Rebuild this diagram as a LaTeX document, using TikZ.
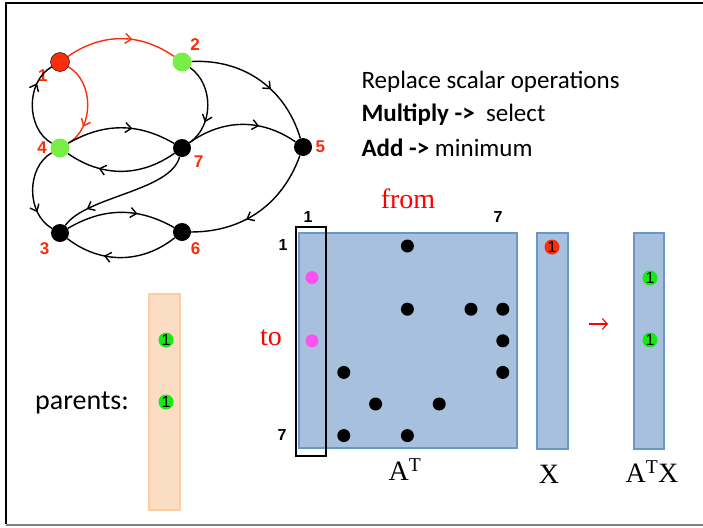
\documentclass[tikz,border=0pt]{standalone}
\usepackage{fontspec}
\setmainfont{Liberation Serif}
\newfontfamily\calibri{Carlito}
\newfontfamily\arial{Liberation Sans}
\usetikzlibrary{arrows.meta,decorations.markings,backgrounds}
\definecolor{nodered}{RGB}{250,45,10}
\definecolor{nodegreen}{RGB}{120,238,70}
\definecolor{dotgreen}{RGB}{20,235,20}
\definecolor{dotpink}{RGB}{255,80,240}
\definecolor{matfill}{RGB}{167,192,222}
\definecolor{matline}{RGB}{105,150,203}
\definecolor{peachfill}{RGB}{251,221,195}
\definecolor{peachline}{RGB}{250,205,165}

\begin{document}
\begin{tikzpicture}[x=1pt,y=1pt,
    vert/.style={circle, fill=#1, minimum size=19pt, inner sep=0pt, label distance=0pt},
    vlabel/.style={font=\arial\bfseries\fontsize{17}{19}\selectfont, text=nodered},
    graphedge/.style={line width=1.4pt},
    midarrow/.style={postaction={decorate}, decoration={markings, mark=at position #1 with {\arrow{Straight Barb[length=6pt,width=10pt]}}}},
    matbox/.style={draw=#1, line width=1.8pt, inner sep=0pt},
    mdot/.style={circle, fill=#1, minimum size=13pt, inner sep=0pt},
    valdot/.style={circle, fill=#1, minimum size=15pt, inner sep=0pt, font=\arial\fontsize{16}{16}\selectfont},
    idx/.style={font=\arial\bfseries\fontsize{16}{18}\selectfont},
    bigtext/.style={font=\fontsize{28}{32}\selectfont},
    ops/.style={anchor=west, font=\calibri\fontsize{25}{29}\selectfont}]
    \useasboundingbox (0,0) rectangle (703,-527);
    % frame
    \draw[line width=2pt] (6,-524) -- (6,-3) -- (703,-3);
    \draw[gray, line width=1.5pt] (6,-525) -- (703,-525);
    % graph
    \node[vert=nodered, draw=black, thin, label={[vlabel]204:1}] (n1) at (60,-62) {};
    \node[vert=nodegreen, label={[vlabel]60:2}] (n2) at (182,-62) {};
    \node[vert=black, minimum size=18pt, label={[vlabel]-140:3}] (n3) at (60,-233) {};
    \node[vert=nodegreen, label={[vlabel]left:4}] (n4) at (60,-148) {};
    \node[vert=black, minimum size=18pt, label={[vlabel]right:5}] (n5) at (303,-147) {};
    \node[vert=black, minimum size=18pt, label={[vlabel]-54:6}] (n6) at (182,-232) {};
    \node[vert=black, minimum size=18pt, label={[vlabel]-25:7}] (n7) at (182,-148) {};
    \draw[graphedge, nodered, midarrow=0.6] (n1) to[bend left=35] (n2);
    \draw[graphedge, nodered, midarrow=0.75] (n1) to[bend left=60] (n4);
    \draw[graphedge, midarrow=0.75] (n4) to[bend left=60] (n1);
    \draw[graphedge, midarrow=0.7] (n2) to[bend left=55] (n7);
    \draw[graphedge, midarrow=0.6] (n2) to[bend left=38] (n5);
    \draw[graphedge, midarrow=0.6] (n4) to[bend left=30] (n7);
    \draw[graphedge, midarrow=0.7] (n7) to[bend left=35] (n4);
    \draw[graphedge, midarrow=0.65] (n7) to[bend left=35] (n5);
    \draw[graphedge, midarrow=0.6] (n5) to[bend left=35] (n6);
    \draw[graphedge, midarrow=0.75] (n4) to[bend right=60] (n3);
    \draw[graphedge, midarrow=0.8] (n7) .. controls +(-105:45) and +(55:45) .. (n3);
    \draw[graphedge, midarrow=0.65] (n3) to[bend left=30] (n6);
    \draw[graphedge, midarrow=0.65] (n6) to[bend left=38] (n3);
    % operations
    \node[ops] (rep) at (358,-82) {Replace scalar operations};
    \node[ops] (mul) at (358,-115) {\textbf{Multiply ->}\ \ select};
    \node[ops] (add) at (358,-148) {\textbf{Add ->} minimum};
    % matrix and vectors
    \node[matbox=matline, fill=matfill, minimum width=218pt, minimum height=215pt] (AT) at (408,-340.5) {};
    \node[matbox=matline, fill=matfill, minimum width=31pt, minimum height=216pt] (X) at (552.5,-341) {};
    \node[matbox=matline, fill=matfill, minimum width=30pt, minimum height=216pt] (ATX) at (649,-341) {};
    \node[matbox=peachline, fill=peachfill, minimum width=31pt, minimum height=216pt] (par) at (164.5,-402) {};
    \foreach \c/\r in {4/1, 4/3, 6/3, 7/3, 7/4, 2/5, 7/5, 3/6, 5/6, 2/7, 4/7}
        \node[mdot=black] (m\r\c) at ({312+31.8*(\c-1)},{-246-31.6*(\r-1)}) {};
    \node[mdot=dotpink] (m21) at (312,-277.6) {};
    \node[mdot=dotpink] (m41) at (312,-340.8) {};
    \node[draw, line width=1.3pt, minimum width=30pt, minimum height=229pt, inner sep=0pt] (colbox) at (311,-341.5) {};
    \node[idx] (c1) at (308,-217) {1};
    \node[idx] (c7) at (498,-217) {7};
    \node[idx] (r1) at (283,-245) {1};
    \node[idx] (r7) at (282,-435) {7};
    \node[valdot=nodered] (x1) at (552,-247) {1};
    \node[valdot=dotgreen] (y2) at (650,-278) {1};
    \node[valdot=dotgreen] (y4) at (650,-340) {1};
    \node[valdot=dotgreen] (p2) at (166,-340) {1};
    \node[valdot=dotgreen] (p4) at (166,-402) {1};
    % labels
    \node[bigtext, text=red] (from) at (408,-199) {from};
    \node[bigtext, text=red] (to) at (271,-338) {to};
    \node[bigtext] (lAT) at (405,-470) {A\textsuperscript{T}};
    \node[bigtext] (lX) at (549,-474) {X};
    \node[bigtext] (lATX) at (652,-472) {A\textsuperscript{T}X};
    \coordinate (arrS) at (589,-324);
    \coordinate (arrE) at (608,-324);
    \draw[red, line width=1.1pt, -{Straight Barb[length=5pt,width=11pt]}] (arrS) -- (arrE);
    \node[font=\calibri\fontsize{28}{32}\selectfont] (parents) at (82,-403) {parents:};
\end{tikzpicture}
\end{document}
